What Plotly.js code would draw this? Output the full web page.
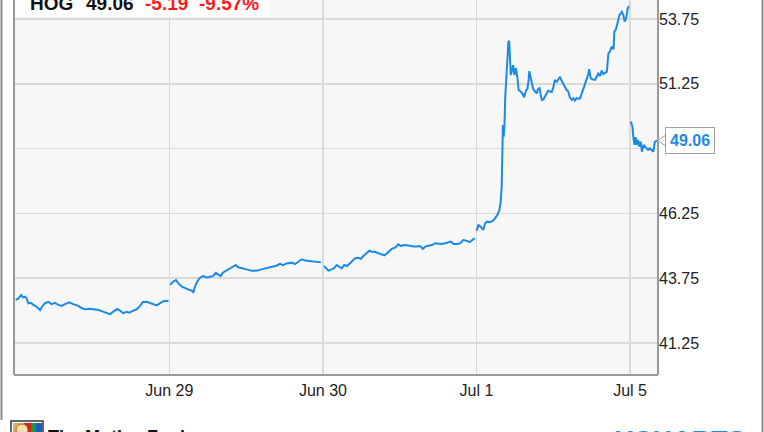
<!DOCTYPE html>
<html>
<head>
<meta charset="utf-8">
<script src="https://cdn.plot.ly/plotly-3.0.1.min.js"></script>
<style>
html,body{margin:0;padding:0;background:#fff;}
#chart{width:764px;height:432px;}
</style>
</head>
<body>
<div id="chart"></div>
<script>
// ---- data ----
const ticker = "HOG";
const lastPriceText = "49.06";
const changeText = "-5.19";
const changePctText = "-9.57%";

const dayNames = ["Jun 28", "Jun 29", "Jun 30", "Jul 1", "Jul 5"];
const tickDays = [1, 2, 3, 4];
const tickLabels = ["Jun 29", "Jun 30", "Jul 1", "Jul 5"];
const priceTicks = [41.25, 43.75, 46.25, 48.75, 51.25, 53.75];
const sessionMinutes = 390;

// minutes after the open, and prices, per trading day
const jun28Min = [0,7,14,19,24,28,32,38,45,53,62,66,74,83,91,100,108,117,125,136,146,159,168,176,189,201,210,222,231,239,248,258,265,273,282,288,299,307,316,323,333,341,349,358,366,375,388];
const jun28Px  = [42.91,42.97,43.10,43.01,43.04,42.97,42.78,42.80,42.72,42.65,42.52,42.63,42.78,42.84,42.75,42.80,42.72,42.68,42.75,42.82,42.75,42.68,42.59,42.55,42.57,42.55,42.52,42.46,42.40,42.36,42.46,42.56,42.50,42.40,42.45,42.42,42.50,42.55,42.68,42.83,42.84,42.80,42.75,42.70,42.78,42.86,42.88];

const jun29Min = [2,10,17,23,32,40,48,57,61,65,71,78,86,95,103,111,118,124,130,136,145,153,162,169,175,183,196,209,221,234,247,260,272,281,289,298,311,319,328,336,345,353,362,370,379,385];
const jun29Px  = [43.49,43.62,43.68,43.55,43.42,43.36,43.32,43.27,43.19,43.42,43.62,43.77,43.83,43.78,43.81,43.83,43.96,43.90,43.83,43.96,44.04,44.13,44.19,44.26,44.17,44.13,44.09,44.04,44.04,44.09,44.14,44.19,44.23,44.30,44.25,44.32,44.35,44.29,44.39,44.48,44.43,44.41,44.39,44.38,44.35,44.36];

const jun30Min = [3,10,14,22,28,35,42,48,54,61,67,76,82,90,96,103,112,118,124,133,141,150,156,163,169,175,184,192,198,205,213,222,230,239,247,254,260,268,277,285,294,302,311,319,325,332,341,349,356,364,373,379,386];
const jun30Px  = [44.22,44.09,44.04,44.09,44.13,44.26,44.17,44.13,44.26,44.22,44.30,44.43,44.52,44.54,44.49,44.61,44.71,44.81,44.77,44.77,44.71,44.67,44.63,44.71,44.81,44.88,44.94,45.06,44.99,45.03,45.02,44.99,44.97,44.97,44.99,44.88,44.97,45.00,45.03,45.10,45.07,45.07,45.10,45.14,45.16,45.07,45.07,45.10,45.22,45.20,45.14,45.22,45.29];

const jul1Min = [0,5,11,17,22,27,34,41,47,53,58,61,64,65,67,69,71,73,77,81,83,87,90,93,96,100,104,107,112,117,121,126,129,132,134,138,141,144,149,153,156,160,163,166,170,174,178,182,187,191,195,199,204,208,212,216,220,225,229,233,237,242,246,250,254,258,263,267,271,275,280,284,286,290,295,301,305,309,314,318,322,326,331,335,339,343,348,350,354,359,363,369,373,376,380,384,387];
const jul1Px  = [45.58,45.80,45.74,45.61,45.87,45.93,45.91,45.96,46.06,46.19,46.38,46.64,47.28,48.31,49.66,49.21,49.66,50.75,51.91,52.87,52.91,51.59,51.78,51.97,51.59,51.85,51.46,51.01,50.95,50.86,50.73,51.01,51.04,51.33,51.74,51.40,51.14,51.04,50.95,50.88,51.04,51.08,50.82,50.63,50.65,50.75,50.88,50.98,50.95,50.93,51.11,51.40,51.33,51.42,51.52,51.37,51.24,51.11,51.01,50.95,50.73,50.63,50.69,50.60,50.69,50.67,50.69,50.86,51.04,51.17,51.40,51.63,51.81,51.46,51.42,51.40,51.52,51.65,51.55,51.76,51.63,51.68,51.72,52.43,52.49,52.68,52.58,53.26,53.35,53.65,53.90,54.03,53.90,53.65,53.78,54.16,54.25];

const jul5Min = [2,6,8,11,14,17,20,24,27,30,34,38,42,46,50,55,59,63,69];
const jul5Px  = [49.79,49.59,49.21,48.89,49.19,48.89,49.08,48.82,49.02,48.63,48.89,48.82,48.76,48.70,48.76,48.70,48.63,49.02,49.06];

const sessions = [
  {min: jun28Min, px: jun28Px},
  {min: jun29Min, px: jun29Px},
  {min: jun30Min, px: jun30Px},
  {min: jul1Min,  px: jul1Px},
  {min: jul5Min,  px: jul5Px}
];

// ---- build series (each session on its own day slot, gaps between sessions) ----
const xs = [], ys = [];
sessions.forEach((s, d) => {
  s.min.forEach((m, i) => { xs.push(d + m / sessionMinutes); ys.push(s.px[i]); });
  if (d < sessions.length - 1) { xs.push(null); ys.push(null); }
});
const lastVal = jul5Px[jul5Px.length - 1];
// the last-value flag hides the price label right under it
const priceTickText = priceTicks.map(v => Math.abs(v - lastVal) < 0.6 ? "" : v.toFixed(2));

const blue = "#1b8ae6";
const font = "Liberation Sans, Arial, Helvetica, sans-serif";
const plotW = 644;

const trace = {
  x: xs, y: ys, type: "scatter", mode: "lines",
  line: {color: blue, width: 2},
  connectgaps: false, hoverinfo: "skip"
};

const layout = {
  width: 764, height: 432,
  margin: {l: 14, r: 106, t: 0, b: 57, pad: 0},
  paper_bgcolor: "#ffffff",
  plot_bgcolor: "#f7f7f7",
  showlegend: false,
  xaxis: {
    range: [-0.011, 4.1816],
    tickmode: "array", tickvals: tickDays, ticktext: tickLabels,
    showgrid: true, gridcolor: "#dadada", gridwidth: 1.5,
    zeroline: false, showline: false, ticks: "",
    ticklabelstandoff: 4,
    tickfont: {family: font, size: 16, color: "#222"},
    fixedrange: true
  },
  yaxis: {
    side: "right",
    range: [40.015, 54.483],
    tickmode: "array", tickvals: priceTicks, ticktext: priceTickText,
    showgrid: true, gridcolor: "#dadada", gridwidth: 1.5,
    zeroline: false, showline: false, ticks: "",
    tickfont: {family: font, size: 16, color: "#222"},
    fixedrange: true
  },
  shapes: [
    // plot frame (left, bottom, right)
    {type: "line", xref: "paper", yref: "paper", x0: 0, x1: 0, y0: 0, y1: 1, line: {color: "#9a9a9a", width: 2}},
    {type: "line", xref: "paper", yref: "paper", x0: 0, x1: 1, y0: 0, y1: 0, line: {color: "#9a9a9a", width: 2}},
    {type: "line", xref: "paper", yref: "paper", x0: 1, x1: 1, y0: 0, y1: 1, line: {color: "#9a9a9a", width: 2}},
    // outer frame
    {type: "line", xref: "paper", yref: "paper", x0: -12.5/plotW, x1: -12.5/plotW, y0: (375-420)/375, y1: 1, line: {color: "#8a8a8a", width: 2}},
    {type: "line", xref: "paper", yref: "paper", x0: 748.5/plotW, x1: 748.5/plotW, y0: (375-432)/375, y1: 1, line: {color: "#8a8a8a", width: 2}},
    // title backdrop
    {type: "rect", xref: "paper", yref: "paper", x0: 0.002, x1: (270-14)/plotW, y0: 1 - 17/375, y1: 1,
     fillcolor: "rgba(255,255,255,0.8)", line: {width: 0}, layer: "above"},
    // pointer of the last-value label
    {type: "path", xref: "paper", yref: "y",
     path: `M 1 ${lastVal} L ${1 + 8/plotW} ${lastVal + 0.22} L ${1 + 8/plotW} ${lastVal - 0.22} Z`,
     fillcolor: "#ffffff", line: {color: "#a0a0a0", width: 1}, layer: "above"},
    // Motley Fool icon
    {type: "rect", xref: "paper", yref: "paper", x0: (11-14)/plotW, x1: (43-14)/plotW, y0: (375-440)/375, y1: (375-421)/375,
     fillcolor: "#ffffff", line: {color: "#333", width: 1.5}},
    {type: "rect", xref: "paper", yref: "paper", x0: (13-14)/plotW, x1: (24-14)/plotW, y0: (375-440)/375, y1: (375-423)/375,
     fillcolor: "#d9b060", line: {width: 0}},
    {type: "rect", xref: "paper", yref: "paper", x0: (24-14)/plotW, x1: (31-14)/plotW, y0: (375-440)/375, y1: (375-423)/375,
     fillcolor: "#d42020", line: {width: 0}},
    {type: "rect", xref: "paper", yref: "paper", x0: (31-14)/plotW, x1: (36-14)/plotW, y0: (375-440)/375, y1: (375-423)/375,
     fillcolor: "#1f9a3a", line: {width: 0}},
    {type: "rect", xref: "paper", yref: "paper", x0: (36-14)/plotW, x1: (42-14)/plotW, y0: (375-440)/375, y1: (375-423)/375,
     fillcolor: "#1a5fc0", line: {width: 0}},
    {type: "circle", xref: "paper", yref: "paper", x0: (16-14)/plotW, x1: (28-14)/plotW, y0: (375-436)/375, y1: (375-424)/375,
     fillcolor: "#f3e2b0", line: {color: "#b07020", width: 1}}
  ],
  annotations: [
    {xref: "paper", yref: "paper", x: 0, y: 1, xanchor: "left", yanchor: "middle", xshift: 14, yshift: -3,
     text: "<b>" + ticker + "</b>", showarrow: false, font: {family: font, size: 19, color: "#111"}},
    {xref: "paper", yref: "paper", x: 0, y: 1, xanchor: "left", yanchor: "middle", xshift: 70, yshift: -3,
     text: "<b>" + lastPriceText + "</b>", showarrow: false, font: {family: font, size: 19, color: "#111"}},
    {xref: "paper", yref: "paper", x: 0, y: 1, xanchor: "left", yanchor: "middle", xshift: 129, yshift: -3,
     text: "<b>" + changeText + "</b>", showarrow: false, font: {family: font, size: 19, color: "#ff1a1a"}},
    {xref: "paper", yref: "paper", x: 0, y: 1, xanchor: "left", yanchor: "middle", xshift: 183, yshift: -3,
     text: "<b>" + changePctText + "</b>", showarrow: false, font: {family: font, size: 19, color: "#ff1a1a"}},
    // last value label
    {xref: "paper", yref: "y", x: 1, y: lastVal, xanchor: "left", yanchor: "middle", xshift: 7,
     text: "<b>" + lastVal.toFixed(2) + "</b>", showarrow: false,
     bgcolor: "#ffffff", bordercolor: "#a0a0a0", borderwidth: 1, borderpad: 4,
     font: {family: font, size: 16, color: blue}},
    // footer logos
    {xref: "paper", yref: "paper", x: 0, y: 0, xanchor: "left", yanchor: "top", xshift: 32, yshift: -50,
     text: "<b>The Motley Fool</b>", showarrow: false, font: {family: font, size: 18, color: "#111"}},
    {xref: "paper", yref: "paper", x: 1, y: 0, xanchor: "right", yanchor: "top", xshift: 90, yshift: -48.5,
     text: "<b>YCHARTS</b>", showarrow: false, font: {family: font, size: 27, color: "#1a8be6"}}
  ]
};

Plotly.newPlot("chart", [trace], layout, {displayModeBar: false, staticPlot: true});
</script>
</body>
</html>
